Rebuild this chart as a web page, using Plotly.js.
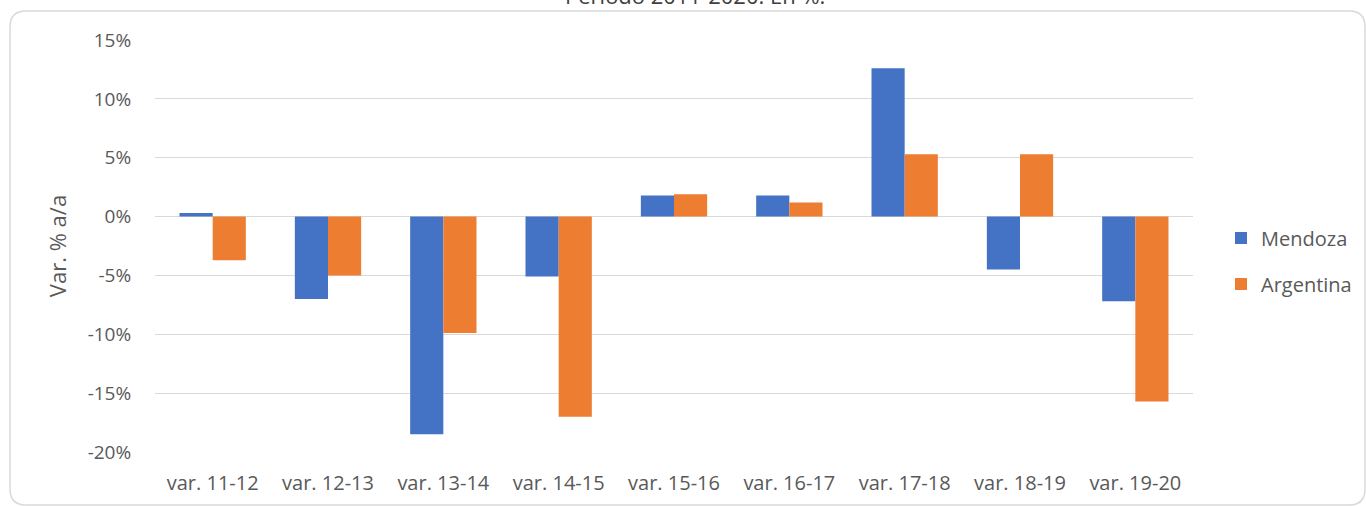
<!DOCTYPE html>
<html>
<head>
<meta charset="utf-8">
<script src="https://cdn.plot.ly/plotly-3.0.1.min.js"></script>
<style>html,body{margin:0;padding:0;background:#fff;}#chart{width:1366px;height:506px;}</style>
</head>
<body>
<div id="chart"></div>
<script>
const categories = ["var. 11-12","var. 12-13","var. 13-14","var. 14-15","var. 15-16","var. 16-17","var. 17-18","var. 18-19","var. 19-20"];
const mendoza =   [0.003, -0.070, -0.185, -0.051, 0.018, 0.018, 0.126, -0.045, -0.072];
const argentina = [-0.037, -0.050, -0.099, -0.170, 0.019, 0.012, 0.053, 0.053, -0.157];
const seriesNames = ["Mendoza", "Argentina"];
const titleText = "Período 2011-2020. En %.";
const yTitle = "Var. % a/a";
const yTicks = [0.15, 0.10, 0.05, 0, -0.05, -0.10, -0.15, -0.20];
const yTickText = ["15%", "10%", "5%", "0%", "-5%", "-10%", "-15%", "-20%"];

const FONT = "'Open Sans', 'Liberation Sans', sans-serif";
const TXT = "#595959";

// plot area geometry (pixels) used for the frame shape
const W = 1366, H = 506, L = 155, R = 173, T = 40, B = 54;
const pw = W - L - R, ph = H - T - B;
const px = x => (x - L) / pw;
const py = y => (H - B - y) / ph;
function roundRect(x0, y0, x1, y1, r) {
  const rx = r / pw, ry = r / ph;
  const X0 = px(x0), X1 = px(x1), Y0 = py(y0), Y1 = py(y1);
  return `M ${X0 + rx} ${Y0} L ${X1 - rx} ${Y0} Q ${X1} ${Y0} ${X1} ${Y0 - ry} ` +
         `L ${X1} ${Y1 + ry} Q ${X1} ${Y1} ${X1 - rx} ${Y1} ` +
         `L ${X0 + rx} ${Y1} Q ${X0} ${Y1} ${X0} ${Y1 + ry} ` +
         `L ${X0} ${Y0 - ry} Q ${X0} ${Y0} ${X0 + rx} ${Y0} Z`;
}

const traces = [
  {type: "bar", name: seriesNames[0], x: categories, y: mendoza,
   marker: {color: "#4472C4"}, legendgroup: "a", hoverinfo: "x+y"},
  {type: "bar", name: seriesNames[1], x: categories, y: argentina,
   marker: {color: "#ED7D31"}, legendgroup: "b", hoverinfo: "x+y"}
];

const layout = {
  width: W, height: H,
  margin: {l: L, r: R, t: T, b: B, pad: 0, autoexpand: false},
  paper_bgcolor: "#ffffff", plot_bgcolor: "#ffffff",
  font: {family: FONT, color: TXT, size: 19},
  barmode: "group", bargap: 0.425, bargroupgap: 0,
  showlegend: true,
  legend: {x: px(1221), xanchor: "left", y: py(261), yanchor: "middle",
           font: {family: FONT, size: 20, color: TXT}, traceorder: "grouped",
           tracegroupgap: 17, bgcolor: "rgba(0,0,0,0)", itemwidth: 30},
  xaxis: {type: "category", showgrid: false, zeroline: false, showline: false, automargin: false,
          ticks: "outside", ticklen: 13, tickcolor: "rgba(0,0,0,0)",
          tickfont: {family: FONT, size: 20, color: TXT}, fixedrange: true},
  yaxis: {range: [-0.2, 0.15], tickvals: yTicks, ticktext: yTickText, automargin: false,
          showgrid: true, gridcolor: "#d9d9d9", gridwidth: 1,
          zeroline: true, zerolinecolor: "#d9d9d9", zerolinewidth: 1.5, showline: false,
          ticks: "outside", ticklen: 19, tickcolor: "rgba(0,0,0,0)",
          tickfont: {family: FONT, size: 19, color: TXT},
          title: {text: yTitle, font: {family: FONT, size: 22, color: TXT}, standoff: 14},
          fixedrange: true},
  annotations: [{text: titleText, xref: "paper", yref: "paper", x: px(695), y: py(12),
                 xanchor: "center", yanchor: "bottom", showarrow: false,
                 font: {family: FONT, size: 22, color: "#404040"}}],
  shapes: [{type: "path", xref: "paper", yref: "paper", path: roundRect(10, 11, 1365, 505, 16),
            line: {color: "#d9d9d9", width: 1.5}, fillcolor: "rgba(0,0,0,0)", layer: "below"}]
};

Plotly.newPlot("chart", traces, layout, {displayModeBar: false, staticPlot: true});
</script>
</body>
</html>
